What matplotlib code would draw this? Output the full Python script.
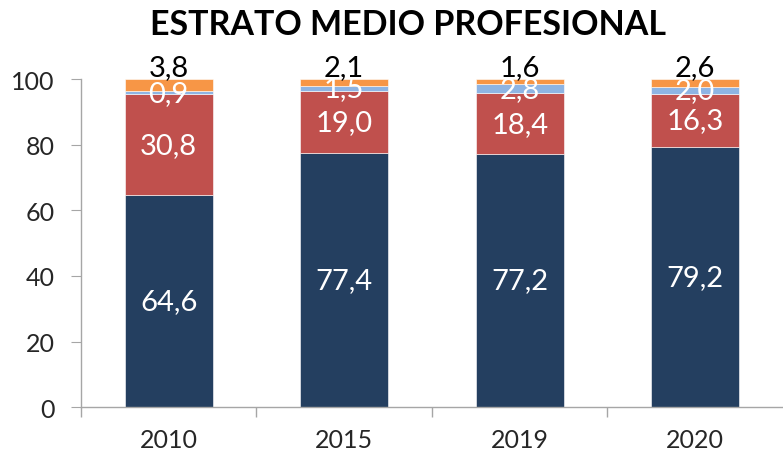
import numpy as np
import matplotlib
matplotlib.use('Agg')
import matplotlib.pyplot as plt

plt.rcParams['font.family'] = ['Lato', 'DejaVu Sans']

# data
years = ['2010', '2015', '2019', '2020']
navy = [64.6, 77.4, 77.2, 79.2]
red = [30.8, 19.0, 18.4, 16.3]
light_blue = [0.9, 1.5, 2.8, 2.0]
orange = [3.8, 2.1, 1.6, 2.6]

series = [navy, red, light_blue, orange]
colors = ['#243F60', '#C0504D', '#8EB4E3', '#F79646']

fig = plt.figure(figsize=(7.83, 4.56), dpi=100)
ax = fig.add_axes([0.1034, 0.105, 0.8966, 0.7195])

x = np.arange(len(years))
bottom = np.zeros(len(years))
for vals, col in zip(series, colors):
    ax.bar(x, vals, 0.5, bottom=bottom, color=col, edgecolor='white', linewidth=0.4)
    bottom += np.array(vals)

def fmt(v):
    return f'{v:.1f}'.replace('.', ',')

# value labels (orange ones sit just above the bar top, in black)
base = np.zeros(len(years))
for k, vals in enumerate(series):
    for i, v in enumerate(vals):
        if k == 3:
            ax.text(x[i], 103.6, fmt(v), ha='center', va='center', fontsize=21,
                    color='black', clip_on=False)
        else:
            ax.text(x[i], base[i] + v / 2, fmt(v), ha='center', va='center',
                    fontsize=21, color='white')
    base += np.array(vals)

ax.set_xlim(-0.5, 3.5)
ax.set_ylim(0, 100)
ax.set_yticks([0, 20, 40, 60, 80, 100])
ax.set_xticks(x)
ax.set_xticklabels(years)
ax.set_xticks(np.arange(-0.5, 3.5, 1), minor=True)
ax.tick_params(axis='x', which='major', length=0, labelsize=18, pad=15, colors='#262626')
ax.tick_params(axis='x', which='minor', length=7, color='#A6A6A6', width=1)
ax.tick_params(axis='y', labelsize=18, length=7, color='#A6A6A6', labelcolor='#262626', pad=12)

for s in ['top', 'right']:
    ax.spines[s].set_visible(False)
for s in ['left', 'bottom']:
    ax.spines[s].set_color('#A6A6A6')
    ax.spines[s].set_linewidth(1)

fig.text(0.521, 0.945, 'ESTRATO MEDIO PROFESIONAL', ha='center', va='center',
         fontsize=24.5, fontweight='bold', color='black')

fig.savefig('out.png', dpi=100)
